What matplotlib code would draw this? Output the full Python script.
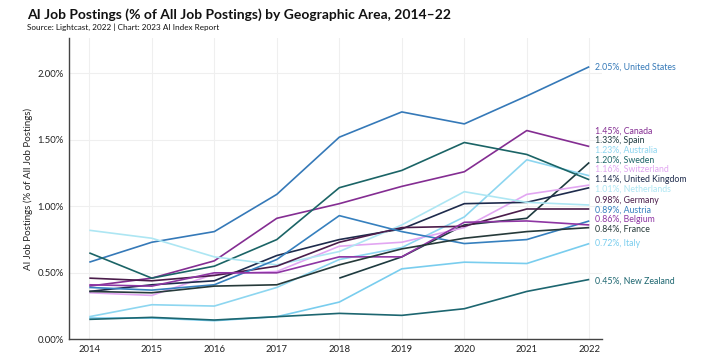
import matplotlib
matplotlib.use("Agg")
import matplotlib.pyplot as plt
from matplotlib.ticker import FuncFormatter

plt.rcParams['font.family'] = ['Lato', 'DejaVu Sans']

years = [2014, 2015, 2016, 2017, 2018, 2019, 2020, 2021, 2022]
spain_years = [2018, 2019, 2020, 2021, 2022]

# % of all job postings
united_states = [0.58, 0.73, 0.81, 1.09, 1.52, 1.71, 1.62, 1.83, 2.05]
canada        = [0.40, 0.46, 0.59, 0.91, 1.02, 1.15, 1.26, 1.57, 1.45]
spain         = [0.46, 0.62, 0.86, 0.91, 1.33]
australia     = [0.17, 0.26, 0.25, 0.39, 0.60, 0.69, 0.92, 1.35, 1.23]
sweden        = [0.65, 0.46, 0.55, 0.75, 1.14, 1.27, 1.48, 1.39, 1.20]
switzerland   = [0.35, 0.33, 0.49, 0.51, 0.70, 0.73, 0.84, 1.09, 1.16]
united_kingdom = [0.36, 0.41, 0.44, 0.63, 0.75, 0.83, 1.02, 1.03, 1.14]
netherlands   = [0.82, 0.76, 0.62, 0.56, 0.66, 0.86, 1.11, 1.03, 1.01]
germany       = [0.46, 0.44, 0.48, 0.55, 0.73, 0.84, 0.85, 0.98, 0.98]
austria       = [0.39, 0.37, 0.41, 0.60, 0.93, 0.81, 0.72, 0.75, 0.89]
belgium       = [0.41, 0.40, 0.50, 0.50, 0.62, 0.62, 0.88, 0.89, 0.86]
france        = [0.36, 0.35, 0.40, 0.41, 0.56, 0.68, 0.76, 0.81, 0.84]
italy         = [0.16, 0.16, 0.14, 0.17, 0.28, 0.53, 0.58, 0.57, 0.72]
new_zealand   = [0.15, 0.165, 0.145, 0.17, 0.195, 0.18, 0.23, 0.36, 0.45]

series = [
    ("United States", years, united_states, "#3579b8"),
    ("Canada", years, canada, "#842d92"),
    ("Spain", spain_years, spain, "#1d3a3f"),
    ("Australia", years, australia, "#8dd6f0"),
    ("Sweden", years, sweden, "#1b6466"),
    ("Switzerland", years, switzerland, "#e2a6f2"),
    ("United Kingdom", years, united_kingdom, "#1e2b4c"),
    ("Netherlands", years, netherlands, "#ade6f3"),
    ("Germany", years, germany, "#4b1d4b"),
    ("Austria", years, austria, "#3680be"),
    ("Belgium", years, belgium, "#8e36a3"),
    ("France", years, france, "#263a3a"),
    ("Italy", years, italy, "#79cdee"),
    ("New Zealand", years, new_zealand, "#1d6670"),
]

# where the end labels sit (spread out so they don't overlap)
label_pos = [2.05, 1.568, 1.498, 1.423, 1.348, 1.278, 1.203, 1.128,
             1.047, 0.972, 0.902, 0.827, 0.722, 0.44]

fig = plt.figure(figsize=(7.1, 3.62), dpi=100)
ax = fig.add_axes([0.0976, 0.0627, 0.75, 0.832])

for (name, xs, ys, col), ly in zip(series, label_pos):
    ax.plot(xs, ys, color=col, lw=1.2, solid_capstyle='butt')
    ax.text(xs[-1] + 0.09, ly, "%.2f%%, %s" % (ys[-1], name), color=col,
            fontsize=6.3, va='center', ha='left', clip_on=False)

ax.set_xlim(2013.68, 2022.2)
ax.set_ylim(0, 2.265)
ax.set_xticks(years)
ax.set_yticks([0, 0.5, 1.0, 1.5, 2.0])
ax.yaxis.set_major_formatter(FuncFormatter(lambda v, p: "%.2f%%" % v))
ax.tick_params(length=0, labelsize=6.8, colors='#222222', pad=4)
ax.grid(True, color='#efefef', lw=0.8)
ax.set_axisbelow(True)
for s in ['top', 'right']:
    ax.spines[s].set_visible(False)
ax.spines['left'].set_color('#444444')
ax.spines['bottom'].set_color('#444444')
ax.spines['left'].set_linewidth(1.0)
ax.spines['bottom'].set_linewidth(1.0)
ax.set_ylabel('AI Job Postings (% of All Job Postings)', fontsize=7, color='#222222', labelpad=3)

fig.text(0.038, 0.96, 'AI Job Postings (% of All Job Postings) by Geographic Area, 2014–22',
         fontsize=10, fontweight='bold', color='#111111', va='center')
fig.text(0.038, 0.926, 'Source: Lightcast, 2022 | Chart: 2023 AI Index Report',
         fontsize=5.9, color='#111111', va='center')

plt.savefig('out.png', dpi=100)
